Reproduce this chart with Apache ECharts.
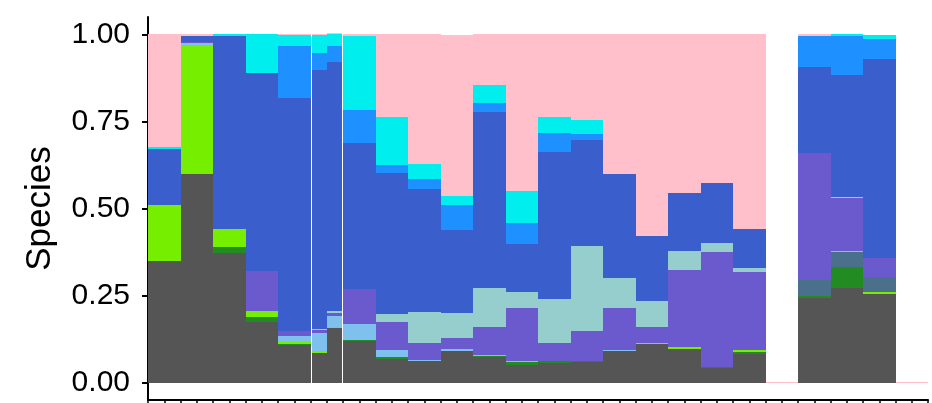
<!DOCTYPE html>
<html><head><meta charset="utf-8">
<script src="https://cdn.jsdelivr.net/npm/echarts@6/dist/echarts.min.js"></script>
<style>html,body{margin:0;padding:0;background:#fff}#c{width:932px;height:403px}</style>
</head><body><div id="c"></div>
<script>
// Bars in left-to-right order (25 bars; bars 6 and 7 share one slot; bars 20 and 25 are empty samples)
const grey        = [.349,.600,.373,.173,.108,.086,.156,.119,.069,.062,.090,.073,.050,.056,.058,.092,.112,.097,.041,.083,0,.244,.273,.255,0];
const forestGreen = [0,0,.017,.015,.004,0,0,.004,.004,0,0,.004,.010,.005,.003,0,0,0,.003,.006,0,.004,.060,0,0];
const lawnGreen   = [.162,.371,.052,.017,.006,.004,.004,0,0,0,0,0,0,0,0,0,.003,.004,0,.006,0,0,0,.004,0];
const steelBlue   = [0,0,0,0,0,0,0,0,0,0,0,0,0,0,0,0,0,0,0,0,0,.048,.043,.043,0];
const skyBlue     = [0,.003,0,0,.017,.051,.030,.044,.022,.004,.006,.003,.003,.002,.002,.003,0,0,0,0,0,0,.003,0,0];
const slateBlue   = [0,.005,0,.115,.012,.009,.010,.103,.080,.047,.031,.081,.150,.052,.086,.1205,.046,.222,.330,.224,0,.362,.152,.057,0];
const paleTeal    = [0,0,0,0,0,.004,.005,0,.023,.091,.072,.112,.048,.126,.242,.084,.072,.054,.028,.009,0,0,.003,0,0];
const royalBlue   = [.161,.016,.553,.568,.669,.743,.716,.417,.403,.353,.239,.503,.138,.420,.307,.299,.187,.167,.170,.112,0,.247,.348,.569,0];
const dodgerBlue  = [0,0,0,0,.150,.050,.046,.096,.024,.029,.071,.026,.058,.055,.015,0,0,0,0,0,0,.090,.113,.060,0];
const cyan        = [.004,0,.005,.112,.031,.050,.033,.212,.137,.043,.027,.054,.092,.048,.040,0,0,0,0,0,0,0,.005,.0115,0];
const pink        = [.324,.005,0,0,.003,.003,.003,.005,.238,.371,.462,.144,.451,.236,.247,.402,.580,.457,.428,.560,.003,.005,0,0,.003];

const yTicks = [0, 0.25, 0.5, 0.75, 1];

const speciesValues = [grey, forestGreen, lawnGreen, steelBlue, skyBlue, slateBlue, paleTeal, royalBlue, dodgerBlue, cyan, pink];
const speciesColors = ['#555555','#228B22','#76EE00','#4A708B','#7EC0EE','#6A5ACD','#96CDCD','#3A5FCD','#1E90FF','#00EEEE','#FFC0CB'];

// layout: each slot is 2 x-units wide; bars 6 and 7 (index 5, 6) are dodged into one slot,
// separated from their neighbours by a 1px white gap (insets in px)
function barSpan(i){
  if (i < 5) return [2*i, 2*i+2, 0, 0];
  if (i === 5) return [10, 11, 1, 0];
  if (i === 6) return [11, 12, 0, 1];
  const s = i - 1; return [2*s, 2*s+2, 0, 0];
}

const nBars = grey.length;
const base = new Array(nBars).fill(0);
const series = speciesValues.map((vals, k) => {
  const data = vals.map((v, i) => {
    const sp = barSpan(i);
    const item = [sp[0], sp[1], base[i], base[i] + v, sp[2], sp[3]];
    base[i] += v;
    return item;
  });
  const color = speciesColors[k];
  return {
    type: 'custom',
    silent: true,
    encode: { x: [0, 1], y: [2, 3] },
    clip: true,
    data,
    renderItem: (params, api) => {
      if (api.value(3) - api.value(2) <= 0) return;
      const p0 = api.coord([api.value(0), api.value(2)]);
      const p1 = api.coord([api.value(1), api.value(3)]);
      const x0 = Math.round(p0[0]) + api.value(4), x1 = Math.round(p1[0]) - api.value(5);
      const yb = Math.round(p0[1]), yt = Math.round(p1[1]);
      const h = Math.max(1, yb - yt);
      return { type: 'rect', shape: { x: x0, y: yb - h, width: x1 - x0, height: h }, style: { fill: color } };
    }
  };
});

const chart = echarts.init(document.getElementById('c'), null, { renderer: 'canvas' });
chart.setOption({
  animation: false,
  backgroundColor: '#fff',
  grid: { left: 148, right: 4, top: 17, bottom: 3, containLabel: false, outerBoundsMode: 'none' },
  xAxis: {
    type: 'value', min: 0, max: 48, interval: 1,
    axisLine: { onZero: false, lineStyle: { color: '#000', width: 2 } },
    axisTick: { show: true, length: 6, lineStyle: { color: '#000', width: 1.5 } },
    axisLabel: { show: false },
    splitLine: { show: false }
  },
  yAxis: {
    type: 'value', min: -0.05, max: 1.05,
    name: 'Species', nameLocation: 'middle', nameGap: 90,
    nameTextStyle: { fontSize: 35, color: '#000', fontFamily: 'Liberation Sans, Arial, sans-serif' },
    axisLine: { show: true, onZero: false, lineStyle: { color: '#000', width: 2 } },
    axisTick: { show: true, length: 6, customValues: yTicks, lineStyle: { color: '#000', width: 2 } },
    axisLabel: { customValues: yTicks, margin: 18, fontSize: 30, color: '#000',
      fontFamily: 'Liberation Sans, Arial, sans-serif', padding: [4, 0, 0, 0],
      formatter: v => v.toFixed(2) },
    splitLine: { show: false }
  },
  series
});
</script></body></html>
